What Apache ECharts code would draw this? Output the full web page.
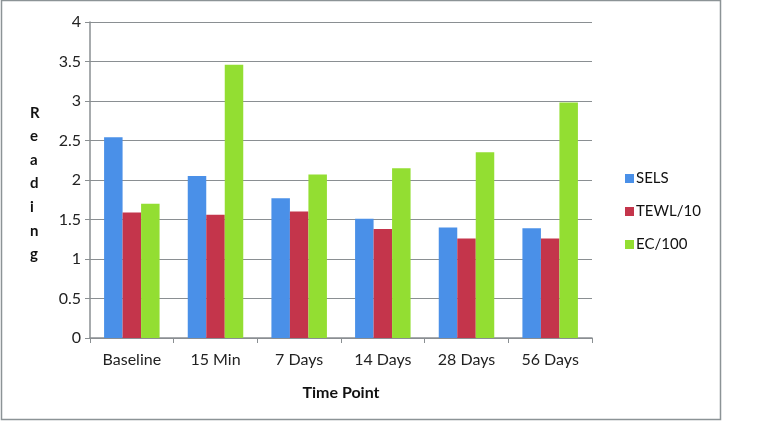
<!DOCTYPE html>
<html><head><meta charset="utf-8">
<script src="https://cdn.jsdelivr.net/npm/echarts@6/dist/echarts.min.js"></script>
<style>html,body{margin:0;padding:0;background:#fff}#c{width:762px;height:430px}</style>
</head><body><div id="c"></div>
<script>
const categories = ['Baseline','15 Min','7 Days','14 Days','28 Days','56 Days'];
const sels = [2.54, 2.05, 1.77, 1.51, 1.40, 1.39];
const tewl = [1.59, 1.56, 1.60, 1.38, 1.26, 1.26];
const ec = [1.70, 3.46, 2.07, 2.15, 2.35, 2.98];
const seriesNames = ['SELS','TEWL/10','EC/100'];
const colors = ['#4A90E8','#C4354B','#93DE32'];
const yTicks = [0,0.5,1,1.5,2,2.5,3,3.5,4];

const chart = echarts.init(document.getElementById('c'));
const font = 'Lato, "Open Sans", sans-serif';
const mk = (name, data, i) => ({
  name, type:'bar', data, barWidth: 18.5, barGap: '0%',
  itemStyle:{color: colors[i]}
});
chart.setOption({
  animation:false,
  textStyle:{fontFamily:font},
  graphic:[
    {type:'rect', shape:{x:1.5,y:0.5,width:719,height:419}, style:{fill:'none',stroke:'#8c9396',lineWidth:1.5}},
    {type:'text', left:30, top:101, style:{text:'R\ne\na\nd\ni\nn\ng', font:'bold 15px '+font, lineHeight:23.6, fill:'#111', align:'center'}}
  ],
  legend:{
    orient:'vertical', left:620, top:166, itemGap:18, itemWidth:9, itemHeight:9,
    icon:'rect', data:seriesNames,
    textStyle:{fontSize:15, color:'#111', fontFamily:font, padding:[4,0,0,-3]}
  },
  grid:{left:90, right:170, top:22, bottom:92, containLabel:false},
  xAxis:{
    type:'category', data:categories,
    name:'Time Point', nameLocation:'middle', nameGap:47,
    nameTextStyle:{fontWeight:'bold', fontSize:16, color:'#111', fontFamily:font},
    axisLine:{lineStyle:{color:'#8a8f92', width:1.5}},
    axisTick:{show:true, length:5, lineStyle:{color:'#8a8f92'}},
    axisLabel:{fontSize:16, color:'#222', margin:14, fontFamily:font}
  },
  yAxis:{
    type:'value', min:0, max:4, interval:0.5,
    axisLine:{show:true, lineStyle:{color:'#8a8f92', width:1.5}},
    axisTick:{show:true, length:5, lineStyle:{color:'#8a8f92'}},
    axisLabel:{fontSize:16, color:'#222', margin:9, fontFamily:font,
      formatter: v => yTicks.includes(v) ? String(v) : ''},
    splitLine:{lineStyle:{color:'#8a8f92', width:1.2}}
  },
  series:[mk(seriesNames[0], sels, 0), mk(seriesNames[1], tewl, 1), mk(seriesNames[2], ec, 2)]
});
</script></body></html>
